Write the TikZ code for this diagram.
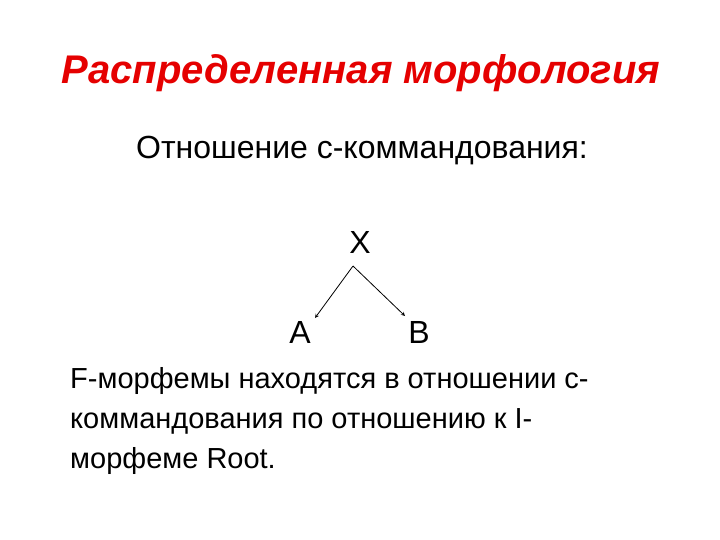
\documentclass[tikz,border=0pt]{standalone}
\usepackage{fontspec}
\setmainfont{Liberation Sans}
\begin{document}
\begin{tikzpicture}[x=1pt,y=-1pt,
  title/.style={text=red!90!black,font=\fontsize{40}{46}\selectfont\bfseries\itshape,anchor=base,inner sep=0pt},
  body/.style={font=\fontsize{32}{38}\selectfont,anchor=base,inner sep=0pt},
  para/.style={font=\fontsize{29}{35}\selectfont,anchor=base west,inner sep=0pt},
  arr/.style={->,>=stealth,line width=0.8pt}]
\useasboundingbox (0,0) rectangle (720,540);
\node[title] (t) at (361,84) {Распределенная морфология};
\node[body] (s) at (362,159) {Отношение с-коммандования:};
\node[body] (x) at (360,254) {X};
\node[body] (a) at (300,343) {A};
\node[body] (b) at (419,343) {B};
\coordinate (apex) at (353,266);
\coordinate (ae) at (315,318);
\coordinate (be) at (405,316);
\draw[arr] (apex) -- (ae);
\draw[arr] (apex) -- (be);
\node[para] (p1) at (70,388) {F-морфемы находятся в отношении с-};
\node[para] (p2) at (70,428) {коммандования по отношению к I-};
\node[para] (p3) at (70,468) {морфеме Root.};
\end{tikzpicture}
\end{document}
